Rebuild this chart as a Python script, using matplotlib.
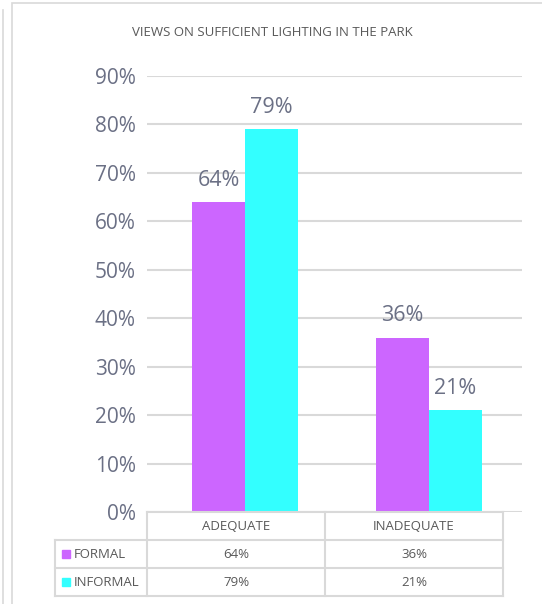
import numpy as np
import matplotlib.pyplot as plt
from matplotlib.lines import Line2D
from matplotlib.patches import Rectangle

plt.rcParams['font.family'] = ['Open Sans', 'DejaVu Sans']

categories = ['ADEQUATE', 'INADEQUATE']
series = ['FORMAL', 'INFORMAL']
formal = [0.64, 0.36]
informal = [0.79, 0.21]
yticks = [0, 0.1, 0.2, 0.3, 0.4, 0.5, 0.6, 0.7, 0.8, 0.9]

colors = ['#CC66FF', '#33FFFF']
text_color = '#6B7085'
grid_color = '#D9D9D9'

W, H = 542, 604
fig = plt.figure(figsize=(W / 100, H / 100), dpi=100)


def frac(x0, y0, x1, y1):
    # pixel box (top-left origin) -> figure fraction [left, bottom, width, height]
    return [x0 / W, 1 - y1 / H, (x1 - x0) / W, (y1 - y0) / H]


# outer panel borders
fig.add_artist(Line2D([3 / W, 3 / W], [0, 1 - 10 / H], color=grid_color, lw=1.2))
fig.add_artist(Rectangle((12 / W, -0.1), 1, 1.1 - 3 / H, transform=fig.transFigure,
                         fill=False, edgecolor=grid_color, lw=1.2))

fig.text(272 / W, 1 - 33 / H, 'VIEWS ON SUFFICIENT LIGHTING IN THE PARK',
         ha='center', va='center', fontsize=9.5, color='#595959')

ax = fig.add_axes(frac(147, 76, 522, 512))
x = np.arange(len(categories)) + 0.033
w = 0.288
values = [formal, informal]
for i, vals in enumerate(values):
    pos = x + (i - 0.5) * w
    bars = ax.bar(pos, vals, width=w, color=colors[i], zorder=3)
    for b, v in zip(bars, vals):
        ax.annotate(f'{v:.0%}', (b.get_x() + b.get_width() / 2, v),
                    xytext=(0, 8), textcoords='offset points',
                    ha='center', va='bottom', fontsize=15.5, color=text_color)

ax.set_xlim(-0.5, 1.54)
ax.set_ylim(0, 0.9)
ax.set_yticks(yticks)
ax.set_yticklabels([f'{t:.0%}' for t in yticks], fontsize=15, color=text_color)
ax.tick_params(axis='y', length=0, pad=8)
ax.set_xticks([])
ax.yaxis.grid(True, color=grid_color, lw=1.5, zorder=0)
for s in ax.spines.values():
    s.set_visible(False)

# data table under the plot
tab = fig.add_axes(frac(55, 512, 503, 596))
tab.set_xlim(55, 503)
tab.set_ylim(3, 0)
tab.axis('off')
col_edges = [55, 147, 325, 503]
line_kw = dict(color=grid_color, lw=1.5, clip_on=False)
tab.plot([147, 503], [0, 0], **line_kw)
for r in (1, 2, 3):
    tab.plot([55, 503], [r, r], **line_kw)
tab.plot([55, 55], [1, 3], **line_kw)
for cx in col_edges[1:]:
    tab.plot([cx, cx], [0, 3], **line_kw)

for j, cat in enumerate(categories):
    cx = (col_edges[j + 1] + col_edges[j + 2]) / 2
    tab.text(cx, 0.5, cat, ha='center', va='center', fontsize=9.5, color='#595959')
    for i, vals in enumerate(values):
        tab.text(cx, 1.5 + i, f'{vals[j]:.0%}', ha='center', va='center',
                 fontsize=9.5, color='#595959')

for i, name in enumerate(series):
    tab.add_patch(Rectangle((62, 1.5 + i - 0.13), 8, 0.26, color=colors[i], clip_on=False))
    tab.text(74, 1.5 + i, name, ha='left', va='center', fontsize=9.5, color='#595959')

fig.savefig('out.png', dpi=100)
